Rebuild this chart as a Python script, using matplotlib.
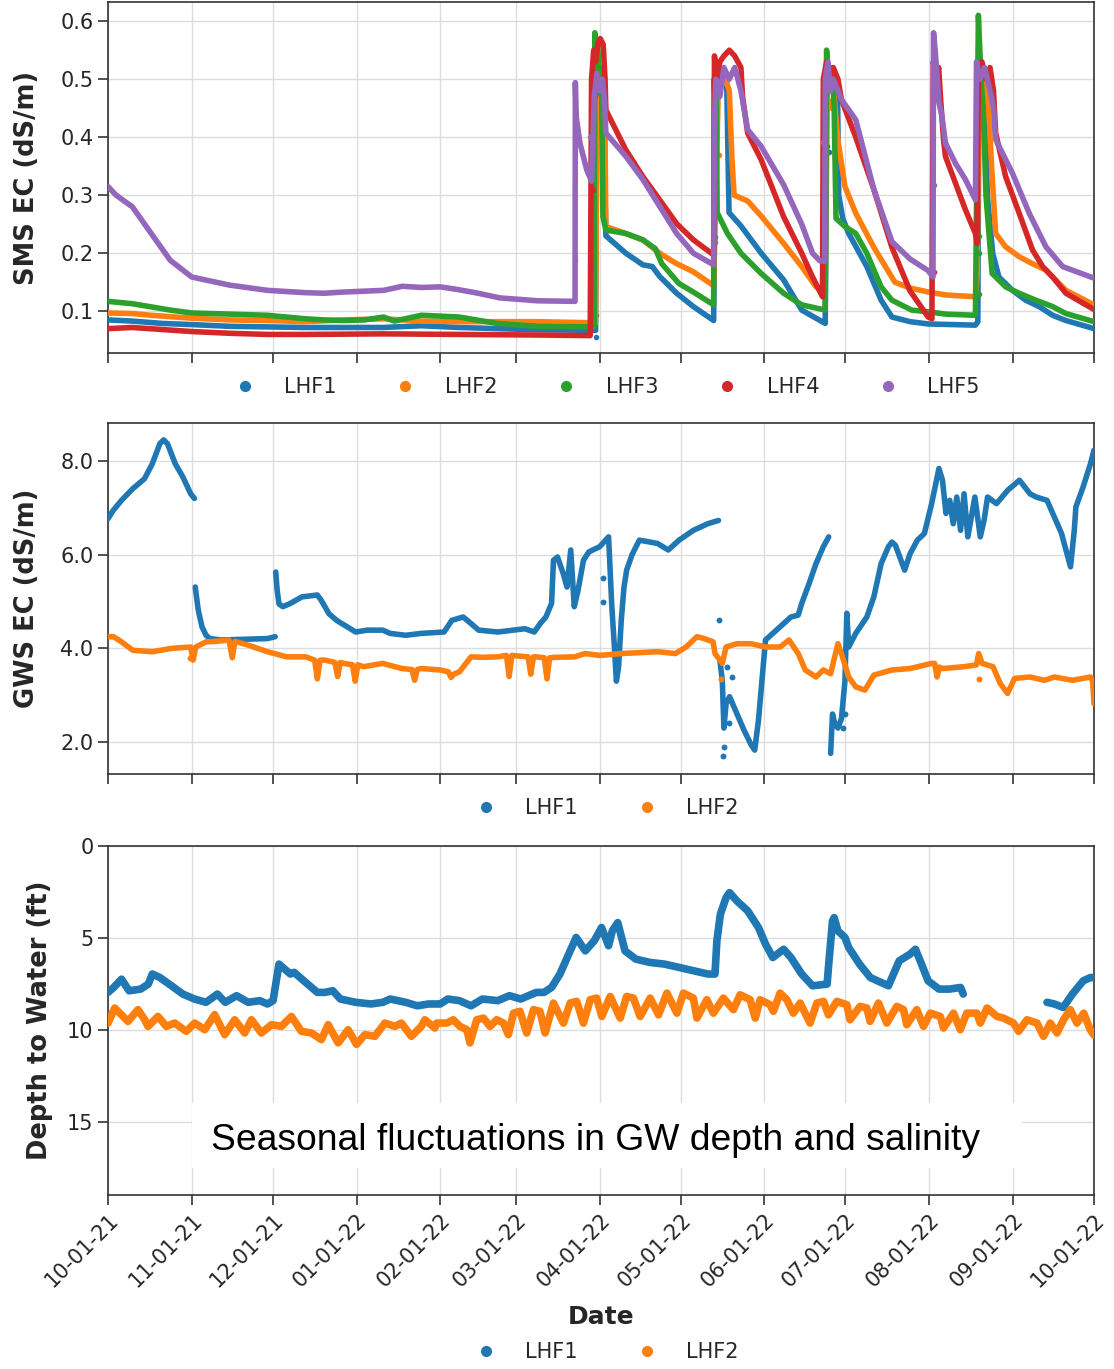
import numpy as np
import pandas as pd
import matplotlib
matplotlib.use("Agg")
import matplotlib.pyplot as plt
import matplotlib.dates as mdates
from matplotlib.lines import Line2D
from matplotlib.patches import Rectangle

# ---------------- data (day offset from 2021-10-01, value) ----------------
START = "2021-10-01"
END = "2022-10-01"
SERIES = ["LHF1", "LHF2", "LHF3", "LHF4", "LHF5"]
COLORS = ["#1f77b4", "#ff7f0e", "#2ca02c", "#d62728", "#9467bd"]

# Soil moisture sensor EC (dS/m)
sms_lhf1 = [(0, .085), (9, .083), (20, .079), (31, .077), (45, .074), (59, .073), (73, .072), (87, .072),
            (102, .072), (116, .075), (130, .072), (144, .070), (159, .068), (180.5, .067),
            (181, .50), (182, .52), (183, .49), (183.6, .50), (184, .30), (184.3, .23), (191.7, .20),
            (198, .18), (201.5, .177), (204.2, .16), (210.5, .131), (216.7, .108), (224.2, .084),
            (225, .51), (226.5, .52), (228, .50), (229, .50), (229.9, .27), (234.3, .247), (241.8, .20),
            (250.1, .154), (256.8, .102), (265.5, .079),
            (266.2, .50), (267, .52), (268.5, .49), (270, .50), (270.5, .30), (272, .26), (274.2, .234),
            (280.9, .177), (286.2, .119), (290.2, .090), (296.9, .082), (303.8, .078), (321.1, .076),
            (322, .082), (322.4, .50), (323.5, .52), (324.5, .50), (325.5, .30), (327.5, .20), (329.8, .159),
            (334.8, .136), (339.7, .119), (344.7, .108), (349.7, .093), (354.6, .084), (365, .070)]
sms_lhf2 = [(0, .097), (9, .096), (16, .093), (31, .088), (45, .085), (59, .084), (73, .082), (87, .085),
            (102, .087), (116, .083), (130, .082), (144, .082), (159, .082), (180.5, .080),
            (181, .46), (181.8, .44), (182.5, .47), (183.3, .45), (184, .40), (184.3, .246), (191.7, .234),
            (198, .223), (204.2, .20), (210.5, .182), (216.7, .168), (224.2, .144),
            (226, .50), (227, .49), (228.5, .50), (230, .48), (231, .36), (231.8, .30), (236.8, .29),
            (241.8, .264), (250.1, .217), (256.8, .177), (262.1, .142), (265.5, .131),
            (266, .47), (267.5, .45), (268.8, .47), (270.2, .395), (272.8, .315), (276.8, .269),
            (283.5, .21), (291.3, .150), (296.9, .140), (303.8, .133), (310.2, .128), (321.1, .125),
            (321.8, .165), (322.4, .50), (323.5, .47), (325, .50), (326.3, .42), (327.3, .332),
            (328.6, .234), (332.3, .211), (337.3, .194), (342.2, .182), (347.2, .171), (349.7, .159),
            (354.6, .136), (365, .111)]
sms_lhf3 = [(0, .117), (9, .113), (23, .102), (31, .097), (45, .095), (59, .093), (73, .087), (80, .085),
            (87, .084), (95, .085), (102, .090), (106, .083), (116, .093), (130, .090), (144, .079),
            (159, .074), (180, .073),
            (180.2, .58), (180.8, .54), (181.2, .56), (182, .50), (182.7, .50), (183.2, .263), (184.3, .24),
            (191.7, .234), (198, .223), (202.6, .208), (205, .182), (211.3, .148), (217.4, .131), (224.2, .111),
            (224.4, .50), (224.8, .45), (225.2, .48), (225.5, .27), (229.3, .234), (234.3, .20),
            (241.8, .165), (250.1, .131), (256.8, .111), (265.5, .102),
            (266, .55), (266.8, .50), (268, .52), (268.8, .45), (269.5, .26), (272.8, .246), (276.8, .234),
            (280.9, .20), (286.2, .142), (290.2, .119), (297.5, .102), (303.6, .099), (310.2, .095),
            (321.1, .093), (322.2, .61), (322.6, .565), (323.2, .50), (324, .45), (325, .30), (327.3, .165),
            (332.3, .142), (337.3, .131), (343.5, .119), (349.7, .108), (354.6, .096), (365, .082)]
sms_lhf4 = [(0, .070), (9, .072), (31, .065), (45, .062), (59, .060), (73, .060), (102, .061), (130, .060),
            (159, .059), (178.5, .058),
            (179, .50), (179.8, .55), (180.5, .53), (181.3, .56), (182.2, .57), (183.3, .56), (184, .50),
            (184.3, .447), (191.7, .378), (198, .332), (204.2, .292), (210.5, .251), (216.7, .223), (224.2, .197),
            (224.5, .54), (225.5, .50), (226.5, .53), (228, .54), (230, .55), (232, .54), (234.3, .52),
            (234.9, .47), (236.8, .407), (241.8, .361), (250.1, .263), (256.8, .20), (260.8, .159), (264.5, .125),
            (264.8, .50), (266, .53), (267, .50), (268.5, .52), (270.2, .50), (271.5, .465), (276.8, .40),
            (283.5, .31), (290.2, .21), (296.9, .135), (303.6, .090), (305, .087),
            (305.5, .53), (306.5, .50), (307.5, .52), (308.2, .467), (309.3, .396), (310, .367),
            (313.7, .321), (317.4, .275), (321.1, .234), (321.7, .217),
            (322.2, .50), (323.5, .53), (325, .50), (326.5, .52), (327.8, .48), (328.6, .407), (332.3, .332),
            (337.3, .269), (342.2, .206), (346, .177), (349.7, .159), (354.6, .131), (365, .103)]
sms_lhf5 = [(0, .315), (3, .30), (9, .28), (16, .234), (23, .188), (31, .159), (45, .145), (59, .136),
            (73, .132), (80, .131), (87, .133), (102, .136), (109, .143), (116, .141), (123, .142),
            (130, .137), (137, .131), (145, .123), (159, .118), (172.9, .117),
            (173, .494), (173.3, .436), (174.7, .39), (177.2, .344), (179, .324),
            (180, .47), (181, .51), (182, .48), (183, .50), (183.8, .465), (184.3, .407), (191.7, .367),
            (198, .327), (204.2, .281), (210.5, .234), (216.7, .20), (224.2, .18),
            (224.5, .42), (225, .50), (226.5, .47), (228, .52), (230, .50), (232, .52), (234.3, .48),
            (235.5, .447), (236.8, .413), (241.8, .384), (250.1, .318), (256.8, .25), (260.8, .20),
            (263.5, .187), (265.3, .186),
            (265.5, .50), (266.5, .53), (267.5, .48), (268.5, .50), (270.2, .48), (271.5, .465),
            (276.8, .43), (283.5, .31), (290.2, .22), (296.9, .19), (303.6, .17), (305.4, .159),
            (305.6, .58), (306.2, .55), (307, .50), (307.6, .46), (308.7, .436), (310, .39),
            (313.7, .355), (317.4, .327), (321.1, .292),
            (321.5, .53), (322.8, .50), (324.5, .52), (326.5, .48), (327.8, .45), (328.6, .396),
            (334.8, .338), (341, .269), (347.2, .211), (353.4, .177), (365, .157)]
sms_outliers = {
    "LHF1": [(180.5, .093), (180.5, .056), (224.8, .22), (266.2, .384), (267, .375), (229.5, .40)],
    "LHF2": [(179.3, .42), (180.2, .395), (226, .37), (264.5, .225)],
    "LHF3": [(224.6, .228), (322.3, .23), (322.3, .20), (322.4, .13)],
    "LHF4": [(179.5, .309), (305.8, .168), (305.7, .467)],
    "LHF5": [(172.8, .188), (178.5, .40), (224.2, .418), (264.8, .392), (305.8, .318)],
}

# Groundwater EC (dS/m)
gws_lhf1 = [(0, 6.77), (2, 6.95), (5, 7.16), (9.2, 7.41), (13.5, 7.62), (16.4, 7.94), (19.2, 8.37),
            (20.6, 8.45), (22, 8.37), (24.9, 7.94), (27.7, 7.66), (30.6, 7.3), (32, 7.2), (32.1, np.nan),
            (32.3, 5.31), (33.4, 4.82), (34.8, 4.46), (36.3, 4.28), (37.7, 4.21), (41.9, 4.18), (47.6, 4.19),
            (59, 4.21), (61.9, 4.25), (62, np.nan),
            (62.1, 5.63), (62.6, 5.25), (63.3, 4.95), (64.7, 4.89), (67.5, 4.96), (71.8, 5.1), (77.5, 5.14),
            (78.9, 5.03), (81.8, 4.74), (84.6, 4.6), (87.4, 4.5), (91.7, 4.35), (96, 4.39), (101.7, 4.39),
            (104.5, 4.32), (110.2, 4.28), (115.9, 4.32), (124.4, 4.35), (127.3, 4.6), (131.5, 4.67),
            (134.4, 4.53), (137.2, 4.39), (144.3, 4.35), (150, 4.39), (154.3, 4.42), (157.8, 4.35),
            (160, 4.53), (162.1, 4.67), (164.2, 4.96), (164.9, 5.88), (166.4, 5.95), (168.5, 5.6),
            (169.9, 5.31), (171.3, 6.1), (172.6, 4.89), (174, 5.24), (176, 5.88), (178, 6.06), (182, 6.17),
            (185.3, 6.38), (186.5, 4.9), (187.5, 4.0), (188.2, 3.3), (189, 3.6), (190, 4.6), (191, 5.3),
            (192, 5.67), (194, 6.0), (196.7, 6.31), (203.4, 6.24), (207.4, 6.1), (211.4, 6.31),
            (216.7, 6.52), (222, 6.66), (226, 6.73), (226.2, np.nan),
            (226.5, 3.75), (227.4, 3.32), (228, 2.3), (228.8, 2.82), (230.1, 2.97), (232.8, 2.61),
            (235.4, 2.26), (238.1, 1.94), (239.4, 1.83), (240.8, 2.47), (242.1, 3.32), (243.4, 4.18),
            (246.1, 4.32), (250.1, 4.53), (252.8, 4.67), (255.5, 4.71), (256.8, 4.96), (259.5, 5.38),
            (262.1, 5.81), (264.8, 6.17), (266.8, 6.38), (267, np.nan),
            (267.5, 1.76), (268.2, 2.6), (269, 2.4), (270.2, 2.3), (271.5, 2.5), (272.8, 3.3),
            (273.5, 4.75), (274.2, 4.03), (276.8, 4.32), (280.9, 4.67), (283.5, 5.1), (286.2, 5.81),
            (288.9, 6.17), (290.2, 6.27), (291.5, 6.2), (294.9, 5.67), (296.9, 6.02), (299.6, 6.31),
            (302.2, 6.45), (304.9, 7.09), (307.6, 7.84), (308.9, 7.59), (310.2, 6.88), (311.6, 7.16),
            (312.9, 6.66), (314.2, 7.23), (315.6, 6.52), (316.9, 7.3), (318.3, 6.38), (320.9, 7.23),
            (322.9, 6.38), (324.3, 6.73), (325.6, 7.23), (328.9, 7.09), (333, 7.37), (337.4, 7.59),
            (341.3, 7.3), (343.6, 7.23), (347.6, 7.16), (353, 6.45), (356.3, 5.74), (357.7, 6.52),
            (358.3, 7.02), (361, 7.45), (363.7, 7.94), (365, 8.23)]
gws_lhf2 = [(0, 4.25), (2, 4.25), (5, 4.14), (9.2, 3.96), (16.4, 3.93), (23.5, 4.0), (30.6, 4.03),
            (31.5, 3.75), (32.5, 4.03), (36.3, 4.14), (40, 4.15), (44.8, 4.18), (46, 3.8), (47, 4.15),
            (51.9, 4.07), (59, 3.93), (66.1, 3.82), (73.2, 3.82), (76.5, 3.75), (77.5, 3.35), (78.5, 3.75),
            (80.3, 3.75), (84, 3.7), (85, 3.4), (86, 3.7), (87.4, 3.68), (90.5, 3.65), (91.5, 3.3),
            (92.5, 3.65), (94.6, 3.61), (101.7, 3.68), (108.8, 3.57), (112.5, 3.55), (113.5, 3.32),
            (114.5, 3.55), (115.9, 3.57), (123, 3.54), (126, 3.5), (127, 3.38), (128, 3.45), (130.1, 3.5),
            (134.4, 3.82), (138.6, 3.81), (144.3, 3.82), (147.5, 3.85), (148.5, 3.4), (149.5, 3.85),
            (155.5, 3.82), (156.5, 3.45), (157.5, 3.82), (158.5, 3.82), (161.5, 3.8), (162.5, 3.35),
            (163.5, 3.8), (165.6, 3.81), (172.8, 3.82), (176.7, 3.89), (182, 3.85), (190, 3.89),
            (203.4, 3.93), (210, 3.89), (214, 4.03), (218, 4.25), (220.7, 4.21), (224, 4.14),
            (224.7, 3.89), (227.4, 3.68), (228.8, 4.03), (232.8, 4.1), (238.1, 4.1), (243.4, 4.03),
            (248.8, 4.03), (252.1, 4.18), (255.5, 3.89), (258.1, 3.54), (262.1, 3.39), (264.8, 3.54),
            (267.5, 3.46), (270.2, 4.1), (271.5, 3.89), (274.2, 3.39), (276.8, 3.18), (280.2, 3.11),
            (283.5, 3.43), (290.2, 3.54), (296.9, 3.57), (304.9, 3.68), (306, 3.68), (306.9, 3.39),
            (307.8, 3.6), (308.9, 3.57), (316.9, 3.61), (321.5, 3.65), (322.3, 3.89), (323.6, 3.68),
            (327.6, 3.61), (330.3, 3.25), (333, 3.04), (335.6, 3.36), (341.3, 3.39), (346.7, 3.32),
            (350.3, 3.39), (357, 3.32), (363.7, 3.39), (364.5, 3.3), (365, 2.82)]
gws_outliers = {
    "LHF1": [(226, 4.6), (227.5, 1.7), (228.2, 1.9), (229, 3.6), (231, 3.4), (230, 2.4),
             (183.3, 5.5), (183.3, 5.0), (272, 2.3), (273, 2.6)],
    "LHF2": [(227, 3.35), (322.5, 3.35), (30.5, 3.8)],
}

# Depth to water (ft)
dtw_lhf1 = [(0, 7.97), (2.1, 7.7), (5, 7.25), (7.8, 7.88), (12.1, 7.79), (14.9, 7.52), (16.4, 6.97),
            (19.2, 7.16), (23.5, 7.61), (27.7, 8.06), (32, 8.33), (36.3, 8.51), (40.5, 8.06), (43.4, 8.51),
            (47.6, 8.15), (51.9, 8.51), (56.2, 8.42), (59, 8.6), (61.1, 8.42), (63.3, 6.43), (64.7, 6.61),
            (67.5, 6.97), (68.9, 6.88), (73.2, 7.43), (77.5, 7.97), (80.3, 7.97), (83.2, 7.88), (86, 8.33),
            (91.7, 8.51), (97.4, 8.6), (101.7, 8.51), (104.5, 8.33), (110.2, 8.51), (114.5, 8.7),
            (118.7, 8.6), (123, 8.6), (125.8, 8.33), (130.1, 8.42), (134.4, 8.7), (138.6, 8.33),
            (144.3, 8.42), (148.6, 8.15), (152.8, 8.33), (158.5, 7.97), (161.4, 7.97), (164.2, 7.7),
            (167.3, 6.97), (170, 6.07), (173.3, 4.98), (176.7, 5.71), (180, 5.16), (182.7, 4.44),
            (185.3, 5.43), (186.7, 4.62), (188.7, 4.17), (191.4, 5.71), (195.4, 6.16), (200.7, 6.34),
            (206, 6.43), (211.4, 6.61), (216.7, 6.79), (222.1, 6.97), (224.7, 6.97), (225.4, 5.16),
            (226.7, 3.71), (228.8, 2.81), (230.1, 2.54), (232.8, 2.99), (236.8, 3.53), (240.8, 4.44),
            (243.4, 5.34), (246.1, 6.07), (250.1, 5.62), (252.8, 6.07), (256.8, 6.97), (260.8, 7.61),
            (266.2, 7.52), (266.8, 6.43), (268.2, 4.08), (268.8, 3.9), (270.2, 4.62), (272.8, 4.98),
            (274.2, 5.53), (278.2, 6.43), (282.2, 7.16), (286.2, 7.43), (288.9, 7.61), (292.9, 6.25),
            (296.9, 5.89), (298.9, 5.62), (300.9, 6.34), (303.6, 7.34), (307.6, 7.79), (311.6, 7.79),
            (315.6, 7.7), (316.6, 8.06), (330, np.nan),
            (347.6, 8.51), (350.3, 8.6), (353.6, 8.79), (357, 8.06), (361, 7.34), (363.7, 7.16), (365, 7.16)]
dtw_lhf2 = [(0, 9.64), (2.5, 8.82), (4.9, 9.18), (7.4, 9.55), (11.1, 8.91), (13.6, 9.46), (14.8, 9.82),
            (18.5, 9.28), (21.6, 9.82), (24.7, 9.64), (29, 10.09), (32.1, 9.64), (35.8, 10.0), (39.5, 9.18),
            (43.2, 10.27), (46.9, 9.46), (50.6, 10.18), (53.1, 9.46), (56.8, 10.18), (60.5, 9.73),
            (64.2, 9.82), (67.9, 9.28), (71.6, 10.09), (75.3, 10.18), (79, 10.54), (81.5, 9.73),
            (85.2, 10.72), (88.9, 10.0), (92, 10.8), (95.1, 10.27), (98.8, 10.36), (102.5, 9.64),
            (106.2, 9.82), (108.6, 9.64), (112.3, 10.36), (116, 9.82), (117.3, 9.46), (121, 9.91),
            (121.7, 9.64), (125.4, 9.64), (127.8, 9.46), (130.3, 9.82), (132.8, 10.0), (134, 10.72),
            (136.5, 9.46), (139, 9.37), (141.4, 9.82), (143.9, 9.46), (146.4, 9.64), (148.2, 10.27),
            (150.1, 9.1), (152.5, 9.0), (155, 10.18), (157.5, 8.91), (159.9, 9.0), (161.8, 10.18),
            (164.9, 8.55), (168.6, 9.64), (171.1, 8.55), (173.5, 8.46), (176, 9.64), (178.5, 8.37),
            (180.9, 8.28), (182.8, 9.28), (185.9, 8.19), (189.6, 9.37), (192, 8.19), (194.5, 8.28),
            (197, 9.28), (200.7, 8.28), (203.8, 9.19), (206.9, 8.01), (210.6, 9.1), (213, 8.01),
            (216.7, 8.28), (218, 9.37), (221.7, 8.37), (224.1, 9.1), (227.8, 8.28), (231.5, 8.91),
            (234, 8.1), (237.7, 8.37), (239.6, 9.37), (241.4, 8.37),
            (245.1, 8.64), (246.3, 9.0), (248.8, 8.01), (251.3, 8.37), (253.7, 9.1), (256.2, 8.55),
            (259.9, 9.64), (262.4, 8.55), (264.9, 8.46), (266.7, 9.19), (269.8, 8.46), (273.5, 8.64),
            (274.7, 9.46), (278.4, 8.73), (280.9, 8.82), (282.1, 9.55), (285.2, 8.55), (288.3, 9.64),
            (292, 8.73), (294.5, 8.91), (295.7, 9.73), (299.4, 8.91), (301.9, 9.82), (304.4, 9.1),
            (308.1, 9.28), (309.3, 9.91), (313, 9.1), (315.5, 10.0), (317.9, 9.1), (321.6, 9.1),
            (322.9, 9.64), (325.4, 8.82), (329.1, 9.28), (331.5, 9.37), (335.2, 9.64), (337.1, 10.09),
            (340.2, 9.46), (343.9, 9.64), (346.3, 10.36), (348.8, 9.64), (351.3, 10.18), (353.7, 9.46),
            (356.2, 8.91), (358.7, 9.64), (361.2, 9.1), (363.6, 10.0), (365, 10.3)]

# ---------------- helpers ----------------
t0 = pd.Timestamp(START)


def unpack(pairs):
    d = np.array([p[0] for p in pairs], dtype=float)
    v = np.array([p[1] for p in pairs], dtype=float)
    return t0 + pd.to_timedelta(d, unit="D"), v


plt.rcParams["font.family"] = ["DejaVu Sans"]
TXT = "#262626"
W, H = 1114, 1369
fig = plt.figure(figsize=(W / 100, H / 100), dpi=100)


def add_ax(top, bottom):
    return fig.add_axes([108 / W, 1 - bottom / H, 986 / W, (bottom - top) / H])


ax1 = add_ax(2, 353)
ax2 = add_ax(423, 774)
ax3 = add_ax(846, 1195)

line_kw = dict(solid_joinstyle="round", solid_capstyle="round", zorder=3)

# panel 1
for name, col, data in zip(SERIES, COLORS, [sms_lhf1, sms_lhf2, sms_lhf3, sms_lhf4, sms_lhf5]):
    x, y = unpack(data)
    ax1.plot(x, y, color=col, lw=4, **line_kw)
    ox, oy = unpack(sms_outliers[name])
    ax1.scatter(ox, oy, s=16, color=col, zorder=3, linewidths=0)

# panel 2
for name, col, data in zip(SERIES[:2], COLORS[:2], [gws_lhf1, gws_lhf2]):
    x, y = unpack(data)
    ax2.plot(x, y, color=col, lw=4, **line_kw)
    ox, oy = unpack(gws_outliers[name])
    ax2.scatter(ox, oy, s=18, color=col, zorder=3, linewidths=0)

# panel 3
for name, col, data in zip(SERIES[:2], COLORS[:2], [dtw_lhf1, dtw_lhf2]):
    x, y = unpack(data)
    ax3.plot(x, y, color=col, lw=5.5, **line_kw)

# axes styling
for ax in (ax1, ax2, ax3):
    ax.set_xlim(pd.Timestamp(START), pd.Timestamp(END))
    ax.xaxis.set_major_locator(mdates.MonthLocator())
    ax.xaxis.set_major_formatter(mdates.DateFormatter("%m-%d-%y"))
    ax.grid(True, color="#dddddd", lw=1.0)
    ax.set_axisbelow(True)
    ax.tick_params(direction="out", length=7, width=1.2, colors="#333333", labelsize=15,
                   labelcolor=TXT)
    for sp in ax.spines.values():
        sp.set_linewidth(1.2)
        sp.set_color("#333333")

ax1.tick_params(axis="x", labelbottom=False)
ax2.tick_params(axis="x", labelbottom=False)

ax1.set_ylim(0.028, 0.633)
ax1.set_yticks([0.1, 0.2, 0.3, 0.4, 0.5, 0.6])
ax1.set_yticklabels(["0.1", "0.2", "0.3", "0.4", "0.5", "0.6"])
ax2.set_ylim(1.32, 8.81)
ax2.set_yticks([2, 4, 6, 8])
ax2.set_yticklabels(["2.0", "4.0", "6.0", "8.0"])
ax3.set_ylim(19, 0)
ax3.set_yticks([0, 5, 10, 15])
ax3.set_yticklabels(["0", "5", "10", "15"])

plt.setp(ax3.get_xticklabels(), rotation=45, ha="right", rotation_mode="anchor")

lab_kw = dict(fontsize=18.5, fontweight="bold", color=TXT)
ax1.set_ylabel("SMS EC (dS/m)", **lab_kw)
ax2.set_ylabel("GWS EC (dS/m)", **lab_kw)
ax3.set_ylabel("Depth to Water (ft)", **lab_kw)
ax1.yaxis.set_label_coords((40 - 108) / 986, 0.5)
ax2.yaxis.set_label_coords((40 - 108) / 986, 0.5)
ax3.yaxis.set_label_coords((53 - 108) / 986, 0.5)
ax3.set_xlabel("Date", fontsize=18, fontweight="bold", color=TXT)
ax3.xaxis.set_label_coords(0.5, (1195 - 1305) / 349)


def legend(ax, n, ycenter_px, ax_bottom_px, ax_h_px):
    handles = [Line2D([], [], marker="o", ls="", color=c, markersize=7) for c in COLORS[:n]]
    ax.legend(handles, SERIES[:n], loc="center", ncol=n, frameon=False, fontsize=15,
              bbox_to_anchor=((607 - 108) / 986, (ax_bottom_px - ycenter_px) / ax_h_px),
              handlelength=1.0, handletextpad=1.4, columnspacing=2.8, borderpad=0,
              labelcolor=TXT)


legend(ax1, 5, 387, 353, 351)
legend(ax2, 2, 808, 774, 351)
legend(ax3, 2, 1352, 1195, 349)

# annotation box
fig.add_artist(Rectangle((192 / W, 1 - 1168 / H), 830 / W, 65 / H, transform=fig.transFigure,
                         facecolor="white", edgecolor="none", zorder=5))
fig.text(211 / W, 1 - 1150 / H, "Seasonal fluctuations in GW depth and salinity",
         fontsize=26.8, family=["Liberation Sans", "DejaVu Sans"], color="black",
         ha="left", va="baseline", zorder=6)

fig.savefig("out.png", dpi=100, facecolor="white")
